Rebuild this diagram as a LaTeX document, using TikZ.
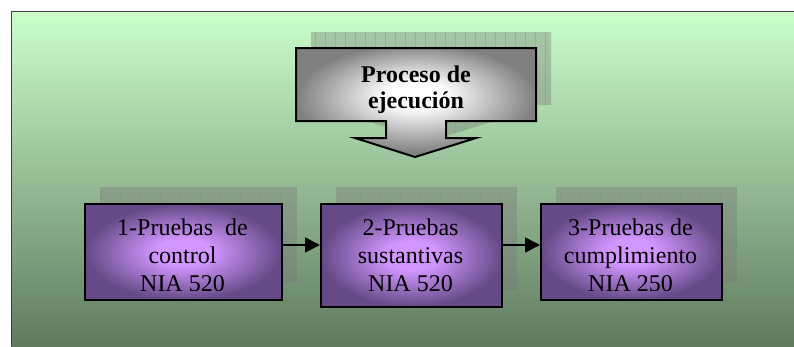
\documentclass[tikz,border=0pt]{standalone}
\usepackage{fontspec}
\setmainfont{Liberation Serif}
\usetikzlibrary{arrows.meta}
\definecolor{fondoarriba}{RGB}{204,255,204}
\definecolor{fondoabajo}{RGB}{96,122,96}
\definecolor{lilacentro}{RGB}{210,150,255}
\definecolor{lilaborde}{RGB}{100,74,134}
\definecolor{grissombra}{RGB}{120,120,120}
\pgfdeclareradialshading{lila}{\pgfpoint{0bp}{0bp}}{color(0bp)=(lilacentro); color(7bp)=(lilacentro); color(25bp)=(lilaborde); color(50bp)=(lilaborde)}
\pgfdeclareradialshading{plata}{\pgfpoint{0bp}{4bp}}{color(0bp)=(white); color(6bp)=(white); color(25bp)=(black!50); color(50bp)=(black!50)}

\begin{document}
\begin{tikzpicture}[x=1pt,y=-1pt]
  \tikzstyle{every node}=[font=\fontsize{24}{28}\selectfont,align=center]
  \tikzstyle{paso}=[draw,line width=2pt,inner sep=0pt,anchor=north west,shading=lila]
  \tikzstyle{sombra}=[fill=grissombra,fill opacity=0.38]
  \tikzstyle{rejilla}=[draw=black!45,line width=0.5pt,opacity=0.4]
  \tikzstyle{enlace}=[line width=1.8pt,-{Triangle[length=15pt,width=15pt]}]
  \useasboundingbox (0,0) rectangle (794,346);
  % fondo
  \shade[top color=fondoarriba,bottom color=fondoabajo] (11,11) rectangle (794,346);
  \draw[line width=1pt,black!75] (11,346) -- (11,11) -- (794,11);

  % sombras de los pasos
  \foreach \xa/\ya/\xb/\yb in {100/187/297/283,336/187/517/290,556/187/737/283}{
    \fill[sombra] (\xa,\ya) rectangle (\xb,\yb);
    \begin{scope}
      \clip (\xa,\ya) rectangle (\xb,\yb);
      \draw[rejilla,step=10] (\xa,\ya) grid (\xb,\yb);
    \end{scope}
  }

  % flecha de arriba
  \begin{scope}[xshift=15pt,yshift=16pt]
    \fill[sombra] (296,48) -- (536,48) -- (536,121) -- (446,121) -- (446,138) -- (476,138)
      -- (415,157) -- (355,138) -- (386,138) -- (386,121) -- (296,121) -- cycle;
    \clip (296,48) -- (536,48) -- (536,121) -- (446,121) -- (446,138) -- (476,138)
      -- (415,157) -- (355,138) -- (386,138) -- (386,121) -- (296,121) -- cycle;
    \draw[rejilla,step=10] (290,40) grid (540,160);
  \end{scope}
  \shade[draw,line width=2pt,shading=plata]
    (296,48) -- (536,48) -- (536,121) -- (446,121) -- (446,138) -- (476,138)
    -- (415,157) -- (355,138) -- (386,138) -- (386,121) -- (296,121) -- cycle;
  \node[anchor=north,inner sep=0pt,font=\bfseries\fontsize{24}{26}\selectfont] (proceso) at (416,65.5)
    {Proceso de\\ejecución};

  % pasos
  \node[paso,minimum width=197pt,minimum height=96pt] (control) at (84,203) {};
  \node[paso,minimum width=181pt,minimum height=103pt] (sustantivas) at (320,203) {};
  \node[paso,minimum width=181pt,minimum height=96pt] (cumplimiento) at (540,203) {};

  \begin{scope}
    \clip (control.north west) rectangle ([yshift=11pt]control.south east);
    \node[anchor=north,inner sep=0pt] (tcontrol) at (182.5,218.6) {1-Pruebas~ de\\control\\NIA 520};
  \end{scope}
  \begin{scope}
    \clip (sustantivas.north west) rectangle ([yshift=11pt]sustantivas.south east);
    \node[anchor=north,inner sep=0pt] (tsustantivas) at (410.5,218.6) {2-Pruebas\\sustantivas\\NIA 520};
  \end{scope}
  \begin{scope}
    \clip (cumplimiento.north west) rectangle ([yshift=11pt]cumplimiento.south east);
    \node[anchor=north,inner sep=0pt] (tcumplimiento) at (630.5,218.6) {3-Pruebas de\\cumplimiento\\NIA 250};
  \end{scope}

  \draw[enlace] ([yshift=7pt]control.east) -- ([yshift=7pt]control.east -| sustantivas.west);
  \draw[enlace] ([yshift=10.5pt]sustantivas.east) -- ([yshift=10.5pt]sustantivas.east -| cumplimiento.west);

\end{tikzpicture}
\end{document}
